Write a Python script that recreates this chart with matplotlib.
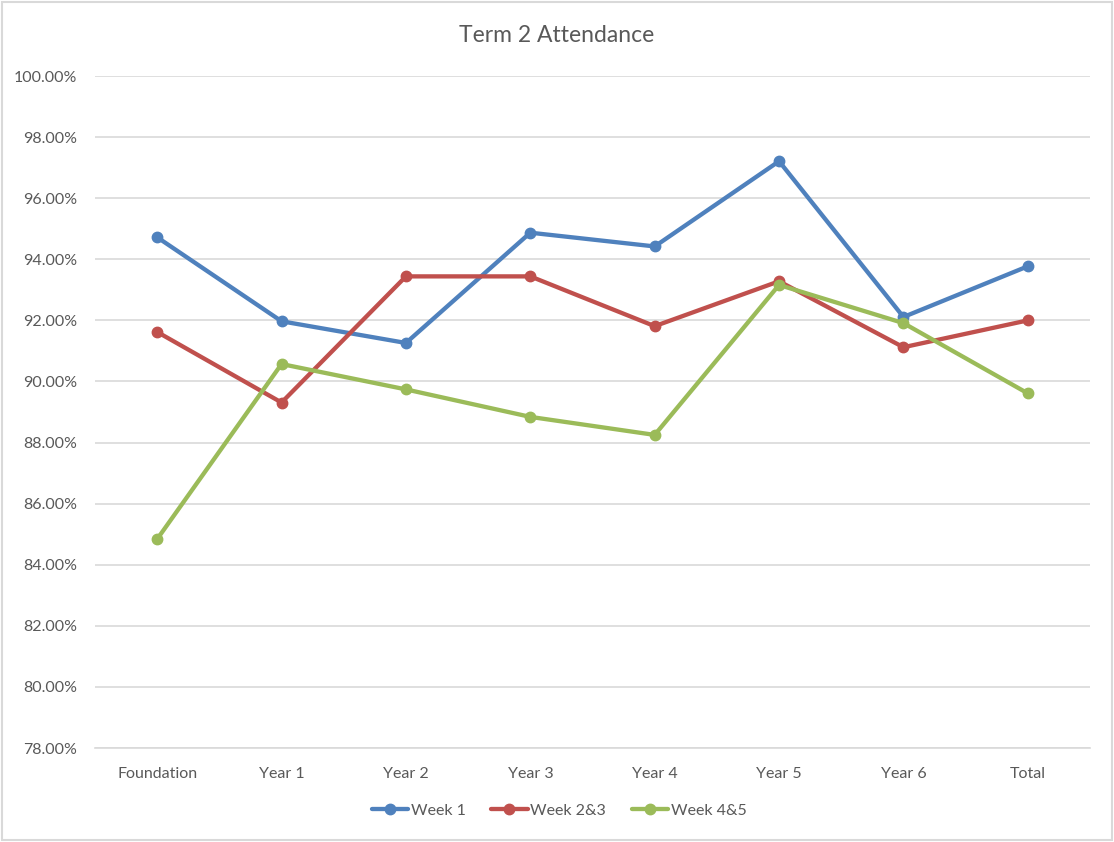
import matplotlib
matplotlib.use("Agg")
import matplotlib.pyplot as plt
from matplotlib.patches import Rectangle
from matplotlib.ticker import FuncFormatter, MultipleLocator

plt.rcParams['font.family'] = ['Lato', 'DejaVu Sans']

categories = ["Foundation", "Year 1", "Year 2", "Year 3", "Year 4", "Year 5", "Year 6", "Total"]
week1 = [94.72, 91.97, 91.26, 94.87, 94.42, 97.21, 92.11, 93.77]
week23 = [91.62, 89.31, 93.44, 93.44, 91.81, 93.28, 91.12, 92.00]
week45 = [84.84, 90.57, 89.74, 88.84, 88.25, 93.16, 91.91, 89.61]
series_names = ["Week 1", "Week 2&3", "Week 4&5"]
colors = ["#4F81BD", "#C0504D", "#9BBB59"]

fig = plt.figure(figsize=(11.14, 8.42), dpi=100)
ax = fig.add_axes([95/1114, 1 - 748/842, (1090 - 95)/1114, (748 - 76)/842])

x = list(range(len(categories)))
for vals, name, c in zip([week1, week23, week45], series_names, colors):
    ax.plot(x, vals, color=c, lw=3.1, marker='o', markersize=7.5, label=name,
            solid_joinstyle='round', solid_capstyle='round')

ax.set_xlim(-0.5, len(categories) - 0.5)
ax.set_ylim(78, 100)
ax.yaxis.set_major_locator(MultipleLocator(2))
ax.yaxis.set_major_formatter(FuncFormatter(lambda v, p: f"{v:.2f}%"))
ax.set_xticks(x)
ax.set_xticklabels(categories)
ax.grid(axis='y', color='#D9D9D9', lw=1.2)
ax.set_axisbelow(True)
for s in ['top', 'right', 'left']:
    ax.spines[s].set_visible(False)
ax.spines['bottom'].set_color('#D9D9D9')
ax.spines['bottom'].set_linewidth(1.2)
ax.tick_params(axis='both', length=0, colors='#595959', labelsize=11.5)
ax.tick_params(axis='y', pad=13)
ax.tick_params(axis='x', pad=14)

fig.text(557/1114, 1 - 35/842, "Term 2 Attendance", ha='center', va='center',
         fontsize=16.5, color='#595959')

leg = fig.legend(loc='center', bbox_to_anchor=(559/1114, 1 - 811/842), ncol=3,
                 frameon=False, fontsize=11.5, handlelength=2.3, handletextpad=0.15,
                 columnspacing=1.6, labelcolor='#595959')

fig.patches.append(Rectangle((2/1114, 2/842), 1 - 4/1114, 1 - 4/842, transform=fig.transFigure,
                             fill=False, edgecolor='#D9D9D9', lw=1.5))

fig.savefig("out.png", dpi=100)
